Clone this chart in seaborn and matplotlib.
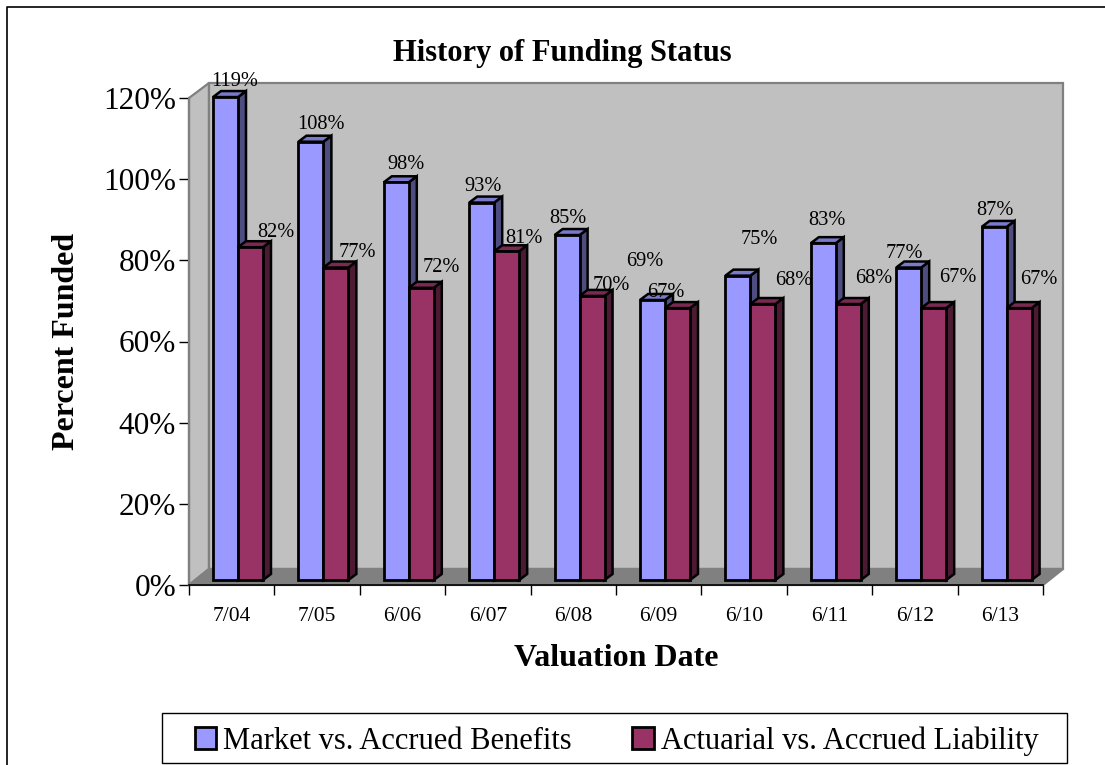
import matplotlib
matplotlib.use("Agg")
import matplotlib.pyplot as plt
import seaborn as sns
import pandas as pd
from matplotlib.lines import Line2D
from matplotlib.patches import Polygon, Rectangle
from matplotlib.transforms import Affine2D, IdentityTransform

dates = ["7/04", "7/05", "6/06", "6/07", "6/08", "6/09", "6/10", "6/11", "6/12", "6/13"]
market = [119, 108, 98, 93, 85, 69, 75, 83, 77, 87]
actuarial = [82, 77, 72, 81, 70, 67, 68, 68, 67, 67]
series_names = ["Market vs. Accrued Benefits", "Actuarial vs. Accrued Liability"]

# label nudges in pixels (the source chart has hand-placed labels)
market_nudge = [(9.5, 16), (10, 17.5), (10, 18), (1.3, 16), (1, 17), (-7.5, 38), (21, 36), (4, 23), (-4, 14), (1, 16)]
actuarial_nudge = [(25.5, 15), (21, 15), (20, 20), (17, 13), (19, 10), (-11.5, 16), (31, 24), (25, 26), (24, 31), (20, 29)]

W, H = 1105, 765
plt.rcdefaults()
sns.set_theme(style="white")
plt.rcParams["font.family"] = ["Liberation Serif", "DejaVu Serif"]
plt.rcParams["text.color"] = "black"
plt.rcParams["xtick.color"] = "black"
plt.rcParams["ytick.color"] = "black"

fig = plt.figure(figsize=(W / 100, H / 100), dpi=100, facecolor="white")
x0, x1, ytop, ybot = 189, 1043, 98, 585
ax = fig.add_axes([x0 / W, 1 - ybot / H, (x1 - x0) / W, (ybot - ytop) / H])
ax.patch.set_alpha(0)

df = pd.DataFrame({
    "date": dates * 2,
    "value": market + actuarial,
    "series": [series_names[0]] * len(dates) + [series_names[1]] * len(dates),
})
colors = ["#9999FF", "#993366"]
sides = ["#4D4D80", "#4D1A33"]
tops = ["#7A7ACC", "#7A2952"]
sns.barplot(data=df, x="date", y="value", hue="series", hue_order=series_names,
            palette=colors, saturation=1, width=0.585, gap=0, dodge=True,
            edgecolor="black", linewidth=2.0, ax=ax, legend=True, errorbar=None)
ax.set_xlim(-0.5, 9.5)
ax.set_ylim(0, 120)


def px(xp, yp):
    """figure-pixel coords measured from top-left"""
    return (xp, H - yp)


# 3-D walls and floor, behind everything (pixel-space frame of the plot box)
ddx, ddy = 20, 16
frame = IdentityTransform()
fig_art = [
    ([(x0, ytop), (x0 + ddx, ytop - ddy + 1), (x0 + ddx, ybot - ddy), (x0, ybot)], "#C0C0C0"),
    ([(x0 + ddx, ytop - ddy + 1), (x1 + ddx, ytop - ddy + 1), (x1 + ddx, ybot - ddy), (x0 + ddx, ybot - ddy)], "#C0C0C0"),
    ([(x0, ybot), (x0 + ddx, ybot - ddy), (x1 + ddx, ybot - ddy), (x1, ybot)], "#808080"),
]
for pts, c in fig_art:
    ax.add_patch(Polygon([px(*p) for p in pts], closed=True, facecolor=c, edgecolor="#808080",
                         linewidth=1.6, transform=frame, clip_on=False, zorder=0.5))

# bars: shift fronts, add depth faces
shift = Affine2D().translate(6.3, 5)
bar_dx, bar_dy = 8, 6
patches = [p for p in ax.patches if isinstance(p, Rectangle) and p.get_height() > 0 and p.get_width() < 1]
n = len(dates)
nudges = market_nudge + actuarial_nudge
for i, bar in enumerate(patches[:2 * n]):
    s = 0 if i < n else 1
    base = 3 + 2 * s
    bar.set_transform(ax.transData + shift)
    bar.set_clip_on(False)
    bar.set_zorder(base + 1)
    bar.set_joinstyle("miter")
    xl, w, h = bar.get_x(), bar.get_width(), bar.get_height()
    to_px = (ax.transData + shift).transform
    br = to_px((xl + w, 0))
    tl = to_px((xl, h))
    tr = to_px((xl + w, h))
    d = (bar_dx, bar_dy)
    side = [br, tr, tr + d, br + d]
    top = [tl, tr, tr + d, tl + d]
    for pts, c in ((side, sides[s]), (top, tops[s])):
        ax.add_patch(Polygon(pts, closed=True, facecolor=c, edgecolor="black", linewidth=1.8,
                             transform=frame, clip_on=False, zorder=base, joinstyle="miter"))
    nx, ny = nudges[i]
    ax.annotate(f"{h:.0f}%", xy=(xl + w / 2, h), xycoords=ax.transData + shift,
                xytext=(nx, ny), textcoords="offset pixels", ha="center", va="center",
                fontsize=14.7, color="black", zorder=10, annotation_clip=False)

# axes dressing
for sp in ("top", "right"):
    ax.spines[sp].set_visible(False)
ax.spines["left"].set_color("#808080")
ax.spines["left"].set_linewidth(1.6)
ax.spines["bottom"].set_color("black")
ax.spines["bottom"].set_linewidth(1.2)
ax.spines["left"].set_zorder(1)
ax.set_yticks(range(0, 121, 20))
ax.set_yticklabels([f"{v}%" for v in range(0, 121, 20)], fontsize=22.5)
ax.set_xticks(range(n))
ax.set_xticklabels(dates, fontsize=15.5)
ax.set_xticks([k - 0.5 for k in range(n + 1)], minor=True)
ax.tick_params(axis="y", which="major", left=True, length=7.2, width=1, color="black", pad=2)
ax.tick_params(axis="x", which="major", bottom=False, pad=16, length=0)
ax.tick_params(axis="x", which="minor", bottom=True, length=7.2, width=1, color="black")
ax.set_xlabel("")
ax.set_ylabel("")

fig.text(562 / W, 1 - 53 / H, "History of Funding Status", ha="center", va="center",
         fontsize=22, fontweight="bold")
fig.text(66 / W, 1 - 341 / H, "Percent Funded", ha="center", va="center", rotation=90,
         fontsize=23, fontweight="bold")
fig.text(616 / W, 1 - 658 / H, "Valuation Date", ha="center", va="center",
         fontsize=23, fontweight="bold")

# outer chart border: only left and top edges fall inside the picture
fig.add_artist(Line2D([7 / W, 7 / W, 1], [0, 1 - 7 / H, 1 - 7 / H], transform=fig.transFigure,
                      color="black", linewidth=1.2))

# legend: box drawn apart so its padding can differ horizontally and vertically
fig.add_artist(Rectangle((162 / W, 1 - 763 / H), (1067 - 162) / W, 50 / H, transform=fig.transFigure,
                         facecolor="white", edgecolor="black", linewidth=1, zorder=5))
handles, labels = ax.get_legend_handles_labels()
ax.get_legend().remove()
leg = fig.legend(handles, labels, loc="center", bbox_to_anchor=(616.5 / W, 1 - 741 / H), ncol=2,
                 frameon=False, fontsize=22,
                 handlelength=0.7, handleheight=0.7, handletextpad=0.22, columnspacing=2.0,
                 borderpad=0, borderaxespad=0)
leg.set_zorder(6)
for h in leg.legend_handles:
    h.set_edgecolor("black")
    h.set_linewidth(2)

fig.savefig("out.png", dpi=100, facecolor="white")
